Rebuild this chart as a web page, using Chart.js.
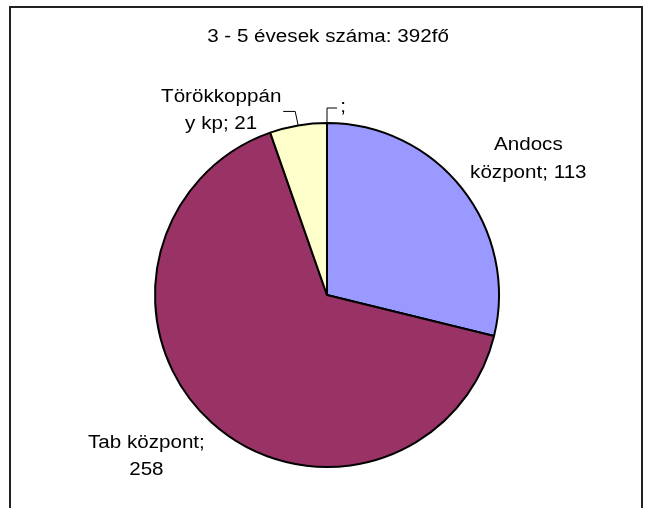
<!DOCTYPE html>
<html>
<head>
<meta charset="utf-8">
<script src="https://cdn.jsdelivr.net/npm/chart.js@4/dist/chart.umd.min.js"></script>
<style>
  html, body { margin: 0; padding: 0; background: #fff; }
  canvas { display: block; }
</style>
</head>
<body>
<canvas id="chart" width="645" height="508"></canvas>
<script>
const titleText = "3 - 5 évesek száma: 392fő";
const categories = ["Andocs központ", "Tab központ", "Törökkoppány kp", ""];
const counts = [113, 258, 21, null];
const sliceColors = ["#9999FF", "#993366", "#FFFFCC", "#CCFFFF"];

// label placement, relative to the slice's outer edge at its mid angle
const labelStyle = [
  { dx: 66, dy: -30, maxWidth: 126 },
  { dx: -65, dy: 34, maxWidth: 126 },
  { dx: -77, dy: -15, maxWidth: 126, leader: { up: 14, lean: -3, run: -12 } },
  { dx: 16, dy: -16, maxWidth: 60, leader: { up: 15, lean: 0, run: 10 } },
];

const FONT = '18px "Liberation Sans", Arial, sans-serif';
const STRETCH = 1.145;
const LINE_HEIGHT = 27.5;

function wrapText(ctx, text, maxW) {
  const lines = [];
  let cur = "";
  for (const word of text.split(" ")) {
    const trial = cur ? cur + " " + word : word;
    if (ctx.measureText(trial).width * STRETCH <= maxW) { cur = trial; continue; }
    if (cur) lines.push(cur);
    let piece = "";
    for (const ch of word) {
      if (piece && ctx.measureText(piece + ch).width * STRETCH > maxW) { lines.push(piece); piece = ch; }
      else piece += ch;
    }
    cur = piece;
  }
  if (cur) lines.push(cur);
  return lines;
}

function drawText(ctx, text, x, y) {
  ctx.save();
  ctx.translate(x, y);
  ctx.scale(STRETCH, 1);
  ctx.fillText(text, 0, 0);
  ctx.restore();
}

const decorations = {
  id: "decorations",
  afterDraw(chart) {
    const ctx = chart.ctx;
    ctx.save();
    // outer frame
    ctx.strokeStyle = "#222";
    ctx.lineWidth = 2;
    ctx.strokeRect(10, 7, 632, 520);

    ctx.font = FONT;
    ctx.fillStyle = "#000";
    ctx.textAlign = "center";
    ctx.textBaseline = "middle";
    drawText(ctx, titleText, 328, 37);

    const arcs = chart.getDatasetMeta(0).data;
    arcs.forEach((arc, i) => {
      const st = labelStyle[i];
      const mid = (arc.startAngle + arc.endAngle) / 2;
      const ex = arc.x + Math.cos(mid) * arc.outerRadius;
      const ey = arc.y + Math.sin(mid) * arc.outerRadius;

      if (st.leader) {
        const L = st.leader;
        ctx.strokeStyle = "#000";
        ctx.lineWidth = 1;
        ctx.beginPath();
        ctx.moveTo(ex, ey);
        ctx.lineTo(ex + L.lean, ey - L.up);
        ctx.lineTo(ex + L.lean + L.run, ey - L.up);
        ctx.stroke();
      }

      const v = counts[i];
      const text = (categories[i] + "; " + (v == null ? "" : v)).trim();
      const lines = wrapText(ctx, text, st.maxWidth);
      const cx = ex + st.dx;
      const cy = ey + st.dy;
      const top = cy - (lines.length - 1) * LINE_HEIGHT / 2;
      lines.forEach((ln, k) => drawText(ctx, ln, cx, top + k * LINE_HEIGHT));
    });
    ctx.restore();
  },
};

new Chart(document.getElementById("chart"), {
  type: "pie",
  data: {
    labels: categories,
    datasets: [{
      data: counts,
      backgroundColor: sliceColors,
      borderColor: "#000",
      borderWidth: 2,
    }],
  },
  options: {
    responsive: false,
    animation: false,
    layout: { padding: { top: 122, bottom: 40, left: 100, right: 91 } },
    plugins: {
      legend: { display: false },
      tooltip: { enabled: false },
    },
  },
  plugins: [decorations],
});
</script>
</body>
</html>
